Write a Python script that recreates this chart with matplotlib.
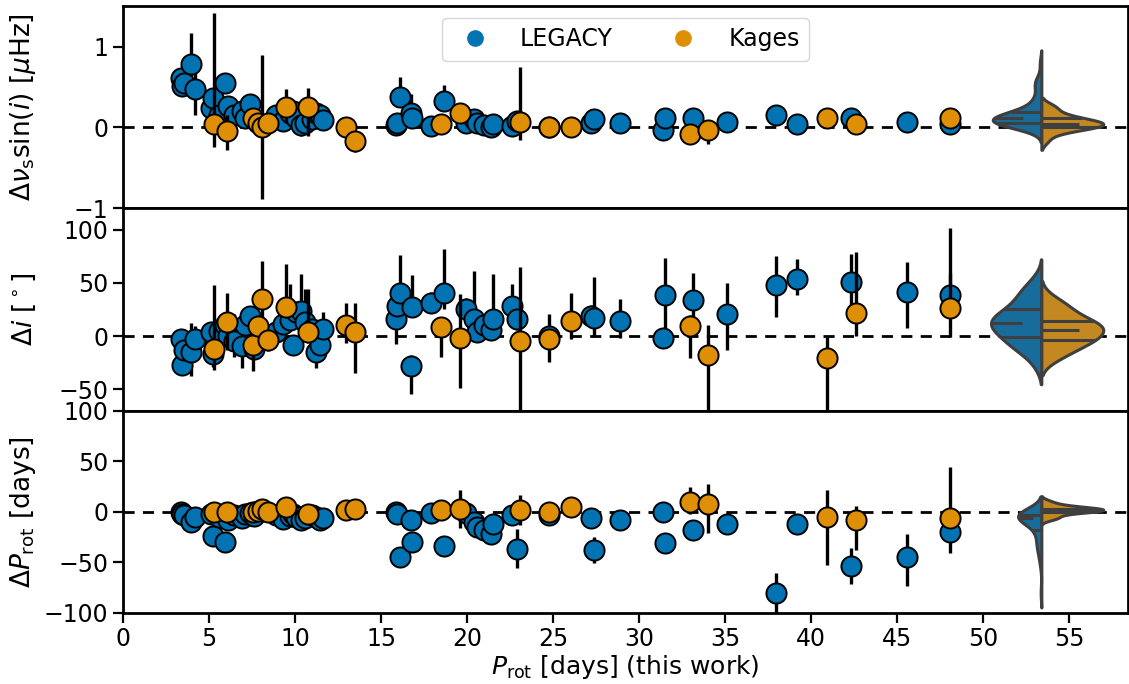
import numpy as np
import matplotlib
matplotlib.use("Agg")
import matplotlib.pyplot as plt
from matplotlib.lines import Line2D

# ---------------- data ----------------
# LEGACY sample
prot_legacy = [3.35, 3.40, 3.55, 3.96, 4.20, 5.10, 5.25, 5.55, 5.92, 6.10, 6.45, 6.90, 7.10,
               7.35, 7.60, 8.90, 9.30, 9.70, 9.87, 10.07, 10.36, 10.55, 11.00, 11.23, 11.42,
               11.62, 15.85, 15.95, 16.08, 16.76, 16.80, 17.92, 18.63, 19.95, 20.40, 20.60,
               21.00, 21.40, 21.50, 22.60, 22.90, 24.74, 27.22, 27.35, 28.90, 31.38, 31.50,
               33.10, 35.10, 37.97, 39.17, 42.28, 45.57, 48.05]
dvs_legacy = [0.61, 0.51, 0.55, 0.79, 0.47, 0.24, 0.36, 0.15, 0.55, 0.27, 0.16, 0.20, 0.12,
              0.29, 0.10, 0.15, 0.08, 0.18, 0.21, 0.12, 0.03, 0.05, 0.10, 0.18, 0.15,
              0.09, 0.03, 0.05, 0.38, 0.18, 0.12, 0.02, 0.33, 0.05, 0.10, 0.05,
              0.03, 0.01, 0.04, 0.02, 0.08, 0.01, 0.05, 0.10, 0.05, -0.03, 0.12,
              0.12, 0.07, 0.15, 0.04, 0.12, 0.07, 0.04]
dvs_legacy_lo = [0.10, 0.10, 0.10, 0.30, 0.32, 0.08, 0.10, 0.08, 0.10, 0.08, 0.08, 0.08, 0.06,
                 0.08, 0.06, 0.06, 0.06, 0.06, 0.06, 0.06, 0.13, 0.06, 0.06, 0.06, 0.06,
                 0.06, 0.05, 0.05, 0.10, 0.10, 0.06, 0.05, 0.10, 0.05, 0.05, 0.05,
                 0.05, 0.05, 0.05, 0.05, 0.05, 0.05, 0.05, 0.05, 0.05, 0.05, 0.05,
                 0.05, 0.05, 0.05, 0.05, 0.05, 0.05, 0.05]
dvs_legacy_hi = [0.10, 0.10, 0.10, 0.38, 0.30, 0.08, 0.10, 0.08, 0.12, 0.08, 0.08, 0.08, 0.06,
                 0.08, 0.06, 0.06, 0.06, 0.06, 0.06, 0.06, 0.10, 0.06, 0.06, 0.06, 0.06,
                 0.06, 0.05, 0.05, 0.25, 0.24, 0.06, 0.05, 0.19, 0.05, 0.05, 0.05,
                 0.05, 0.05, 0.05, 0.05, 0.05, 0.05, 0.05, 0.05, 0.05, 0.05, 0.05,
                 0.05, 0.05, 0.05, 0.05, 0.05, 0.05, 0.05]
di_legacy = [-2.5, -27.5, -13.0, -15.0, -2.5, 3.7, -17.0, 5.0, 10.0, 0.0, -5.0, -9.0, 10.0,
             19.0, -12.0, 3.7, 11.5, 14.7, -8.0, 22.5, 24.0, 13.0, 6.8, -15.0, -8.8,
             6.8, 16.0, 28.5, 40.6, -28.0, 27.5, 31.5, 40.6, 25.6, 16.0, 3.8,
             10.0, 6.0, 16.0, 28.5, 16.0, 0.0, 19.0, 17.0, 14.5, -1.5, 38.5,
             34.0, 21.0, 48.0, 54.0, 51.0, 41.0, 39.0]
di_legacy_lo = [8, 8, 8, 22, 10, 8, 12, 8, 10, 8, 15, 21, 8,
                8, 8, 8, 8, 8, 8, 8, 10, 8, 8, 15, 8,
                8, 23, 10, 20, 26, 10, 10, 15, 10, 18, 8,
                8, 8, 20, 10, 10, 24, 10, 18, 16, 10, 35,
                24, 34, 30, 15, 22, 33, 15]
di_legacy_hi = [8, 8, 8, 27, 12, 8, 10, 8, 10, 8, 26, 8, 8,
                8, 8, 8, 8, 34, 8, 8, 34, 31, 8, 8, 8,
                16, 12, 10, 36, 10, 30, 10, 41, 10, 45, 8,
                8, 8, 42, 20, 10, 21, 10, 39, 20, 8, 35,
                25, 29, 27, 18, 26, 29, 20]
dp_legacy = [-0.7, -2.0, -3.0, -10.5, -5.0, -2.0, -24.0, -5.0, -30.0, -8.0, -3.0, -6.0, -2.0,
             -1.0, -4.0, -3.0, -7.0, -4.0, -2.0, -5.0, -8.0, -6.0, -3.0, -5.0, -8.0,
             -6.0, -0.7, -2.0, -44.5, -8.0, -30.0, -1.4, -34.0, -1.4, -10.0, -15.0,
             -18.0, -22.0, -12.0, -3.0, -37.0, -3.7, -6.0, -37.5, -8.5, 0.0, -31.0,
             -18.0, -12.0, -80.6, -12.0, -54.0, -45.0, -20.0]
dp_legacy_lo = [3, 3, 3, 4, 3, 3, 4, 3, 5, 3, 3, 3, 3,
                3, 3, 3, 3, 3, 3, 3, 3, 3, 3, 3, 3,
                3, 3, 3, 5, 3, 5, 3, 5, 3, 4, 4,
                4, 4, 4, 3, 19, 3, 3, 13, 3, 3, 10,
                5, 4, 20, 3, 17, 28, 21]
dp_legacy_hi = [3, 3, 3, 4, 3, 3, 4, 3, 5, 3, 3, 3, 3,
                3, 3, 3, 3, 3, 3, 3, 3, 3, 3, 3, 3,
                3, 3, 3, 10, 3, 5, 3, 5, 3, 4, 4,
                4, 4, 4, 3, 20, 3, 3, 13, 3, 3, 10,
                5, 4, 20, 3, 18, 23, 12]

# Kages sample
prot_kages = [5.28, 6.04, 7.55, 7.85, 8.09, 8.45, 9.45, 10.75, 12.98, 13.46, 18.50, 19.56,
              23.05, 24.76, 26.06, 32.94, 34.00, 40.92, 42.57, 48.05]
dvs_kages = [0.04, -0.04, 0.12, 0.06, 0.01, 0.06, 0.25, 0.25, 0.01, -0.17, 0.04, 0.18,
             0.07, 0.01, 0.01, -0.08, -0.03, 0.12, 0.04, 0.12]
dvs_kages_lo = [0.28, 0.24, 0.06, 0.06, 0.89, 0.06, 0.20, 0.35, 0.06, 0.13, 0.06, 0.06,
                0.23, 0.05, 0.05, 0.05, 0.17, 0.05, 0.05, 0.05]
dvs_kages_hi = [1.38, 0.20, 0.06, 0.06, 0.89, 0.06, 0.22, 0.24, 0.06, 0.06, 0.06, 0.06,
                0.68, 0.05, 0.05, 0.05, 0.10, 0.05, 0.05, 0.05]
di_kages = [-11.8, 13.7, -8.8, 9.4, 34.7, -3.8, 27.0, 3.8, 10.0, 3.8, 8.4, -1.5,
            -4.6, -3.0, 14.5, 9.4, -18.0, -20.5, 22.0, 26.6]
di_kages_lo = [20, 27, 24, 10, 30, 10, 10, 10, 16, 38, 28, 47,
               70, 10, 17, 30, 55, 55, 22, 27]
di_kages_hi = [60, 27, 10, 10, 36, 10, 41, 40, 21, 27, 10, 41,
               70, 10, 26, 10, 28, 20, 57, 75]
dp_kages = [-0.3, 0.0, 0.0, 1.0, 3.0, 0.0, 5.0, -2.7, 2.0, 3.0, 2.0, 2.6,
            2.0, 0.0, 5.0, 10.0, 7.6, -5.6, -8.0, -6.0]
dp_kages_lo = [3, 3, 3, 3, 3, 3, 3, 3, 3, 3, 3, 19,
               15, 3, 3, 12, 29, 47, 30, 10]
dp_kages_hi = [10, 3, 3, 3, 3, 3, 8, 3, 3, 3, 3, 19,
               15, 3, 3, 14, 20, 27, 14, 50]

labels = ["LEGACY", "Kages"]
ylabels = [r"$\Delta\nu_{\rm s}\sin(i)$ [$\mu$Hz]", r"$\Delta i$ [$^\circ$]",
           r"$\Delta P_{\rm rot}$ [days]"]
xlabel = r"$P_{\rm rot}$ [days] (this work)"

# ---------------- style ----------------
BLUE = "#0173b2"
ORANGE = "#de8f05"
VBLUE = "#176c9c"
VORANGE = "#c38820"
GRAY = "#3f3f3f"

plt.rcParams.update({
    "font.family": "DejaVu Sans",
    "font.size": 17,
    "mathtext.fontset": "dejavusans",
    "axes.linewidth": 2.0,
    "xtick.major.width": 1.6,
    "ytick.major.width": 1.6,
    "xtick.major.size": 7,
    "ytick.major.size": 7,
})

fig = plt.figure(figsize=(11.29, 6.84), dpi=100)
gs = fig.add_gridspec(3, 1, left=0.109, right=0.999, bottom=0.104, top=0.991, hspace=0)
ax0 = fig.add_subplot(gs[0])
ax1 = fig.add_subplot(gs[1], sharex=ax0)
ax2 = fig.add_subplot(gs[2], sharex=ax0)
axes = [ax0, ax1, ax2]

legacy_sets = [(dvs_legacy, dvs_legacy_lo, dvs_legacy_hi),
               (di_legacy, di_legacy_lo, di_legacy_hi),
               (dp_legacy, dp_legacy_lo, dp_legacy_hi)]
kages_sets = [(dvs_kages, dvs_kages_lo, dvs_kages_hi),
              (di_kages, di_kages_lo, di_kages_hi),
              (dp_kages, dp_kages_lo, dp_kages_hi)]
ylims = [(-1, 1.5), (-70, 120), (-100, 100)]
yticks = [[-1, 0, 1], [-50, 0, 50, 100], [-100, -50, 0, 50, 100]]

VPOS = 53.4
VWIDTH = 7.2


def split_violin(ax, left_vals, right_vals, pos, width):
    res = []
    for vals in (left_vals, right_vals):
        v = np.asarray(vals, float)
        bw = v.std(ddof=1) * len(v) ** (-0.2)
        grid = np.linspace(v.min() - 2 * bw, v.max() + 2 * bw, 300)
        dens = np.exp(-0.5 * ((grid[:, None] - v[None, :]) / bw) ** 2).sum(1) / (
            len(v) * bw * np.sqrt(2 * np.pi))
        res.append((grid, dens, v))
    scale = (width / 2) / max(r[1].max() for r in res)
    for side, (grid, dens, v), col in zip((-1, 1), res, (VBLUE, VORANGE)):
        xs = pos + side * dens * scale
        ax.fill(np.r_[pos, xs, pos], np.r_[grid[0], grid, grid[-1]],
                facecolor=col, edgecolor=GRAY, linewidth=2.2, zorder=6,
                joinstyle="round")
        q = np.percentile(v, [25, 50, 75])
        for k, qq in enumerate(q):
            half = np.interp(qq, grid, dens) * scale
            if k == 1:
                if side < 0:
                    x0, x1 = pos - half, pos - half + 0.6 * half
                else:
                    x0, x1 = pos, pos + 0.6 * half
            else:
                x0, x1 = pos, pos + side * half
            ax.plot([x0, x1], [qq, qq], color=GRAY, lw=2.2, zorder=7,
                    solid_capstyle="butt")


for ax, lset, kset, yl, yt, lab in zip(axes, legacy_sets, kages_sets, ylims, yticks, ylabels):
    ax.axhline(0, color="black", ls=(0, (4, 3)), lw=2.0, zorder=1)
    ax.errorbar(prot_legacy, lset[0], yerr=[lset[1], lset[2]], fmt="o", ms=14.5,
                mfc=BLUE, mec="black", mew=1.4, ecolor="black", elinewidth=2.4,
                capsize=0, zorder=3)
    ax.errorbar(prot_kages, kset[0], yerr=[kset[1], kset[2]], fmt="o", ms=14.5,
                mfc=ORANGE, mec="black", mew=1.4, ecolor="black", elinewidth=2.4,
                capsize=0, zorder=4)
    split_violin(ax, lset[0], kset[0], VPOS, VWIDTH)
    ax.set_ylim(*yl)
    ax.set_yticks(yt)
    ax.set_ylabel(lab, fontsize=19)
    ax.tick_params(axis="both", labelsize=17)

ax0.set_xlim(0, 58.4)
ax2.set_xticks(np.arange(0, 56, 5))
for ax in (ax0, ax1):
    ax.tick_params(axis="x", which="both", bottom=False, labelbottom=False)
ax2.set_xlabel(xlabel, fontsize=18, labelpad=1)
fig.align_ylabels(axes)

handles = [Line2D([], [], ls="", marker="o", ms=11, mfc=c, mec=c) for c in (BLUE, ORANGE)]
ax0.legend(handles, labels, loc="upper center", ncol=2, fontsize=17,
           handletextpad=0.9, columnspacing=2.0, framealpha=0.8)

fig.savefig("out.png", dpi=100)
